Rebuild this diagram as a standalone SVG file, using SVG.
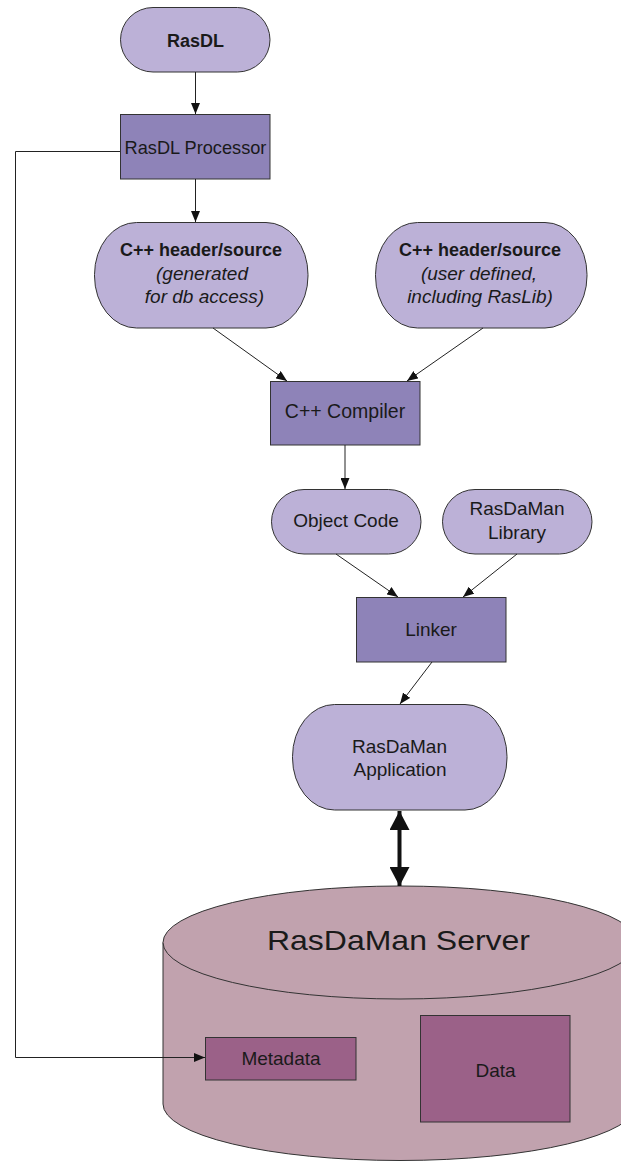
<svg xmlns="http://www.w3.org/2000/svg" width="621" height="1162" viewBox="0 0 621 1162">
<style>
text{font-family:"Liberation Sans",Arial,sans-serif;fill:#1a1a1a;text-anchor:middle}
.pill{fill:#BCB1D7;stroke:#333;stroke-width:1}
.box{fill:#8E83B8;stroke:#333;stroke-width:1}
.cyl{fill:#C1A2AE;stroke:#333;stroke-width:1}
.inner{fill:#9B6188;stroke:#333;stroke-width:1}
.b{font-weight:bold;font-size:18px}
.i{font-style:italic;font-size:19px}
.r{font-size:19px}
.c{fill:none;stroke:#222;stroke-width:1}
</style>
<defs>
<marker id="ah" markerUnits="userSpaceOnUse" markerWidth="11" markerHeight="9" refX="11" refY="4.5" orient="auto">
<path d="M0,0 L11,4.5 L0,9 z" fill="#111"/>
</marker>
<marker id="big" markerUnits="userSpaceOnUse" markerWidth="20" markerHeight="20" refX="19" refY="10" orient="auto-start-reverse">
<path d="M0,0 L19,10 L0,20 z" fill="#111"/>
</marker>
</defs>
<g id="server">
<path class="cyl" d="M163,942.5 A237,56.5 0 0 1 637,942.5 L637,1104 A237,56.5 0 0 1 163,1104 Z"/>
<path class="cyl" d="M163,942.5 A237,56.5 0 0 0 637,942.5" fill="none"/>
<text x="398.5" y="950" font-size="28" textLength="263" lengthAdjust="spacingAndGlyphs">RasDaMan Server</text>
</g>
<g id="metadata">
<rect class="inner" x="205.5" y="1037.5" width="150.5" height="42.5"/>
<text class="r" x="281" y="1065">Metadata</text>
</g>
<g id="data">
<rect class="inner" x="420.5" y="1015.5" width="149.5" height="106.5"/>
<text class="r" x="495.5" y="1077">Data</text>
</g>
<g id="rasdl">
<rect class="pill" x="120.5" y="7.5" width="149.5" height="64.5" rx="32.5" ry="32.5"/>
<text class="b" x="195.5" y="47">RasDL</text>
</g>
<g id="processor">
<rect class="box" x="120.5" y="114.5" width="149.5" height="64.5"/>
<text x="195.5" y="154" font-size="18.2">RasDL Processor</text>
</g>
<g id="gen">
<rect class="pill" x="94.5" y="222.5" width="213.5" height="105.5" rx="42" ry="52"/>
<text class="b" x="201" y="256">C++ header/source</text>
<text class="i" x="202" y="280">(generated</text>
<text class="i" x="204.5" y="303">for db access)</text>
</g>
<g id="user">
<rect class="pill" x="375.5" y="222.5" width="211.5" height="105.5" rx="42" ry="52"/>
<text class="b" x="480" y="256">C++ header/source</text>
<text class="i" x="479" y="280">(user defined,</text>
<text class="i" x="480" y="303">including RasLib)</text>
</g>
<g id="compiler">
<rect class="box" x="270.5" y="381.5" width="149.5" height="63.5"/>
<text x="345" y="418" font-size="19.5">C++ Compiler</text>
</g>
<g id="objcode">
<rect class="pill" x="271.5" y="489.5" width="149.5" height="64.5" rx="32.5" ry="32.5"/>
<text class="r" x="346" y="527">Object Code</text>
</g>
<g id="library">
<rect class="pill" x="442.5" y="489.5" width="149.5" height="64.5" rx="32.5" ry="32.5"/>
<text class="r" x="517" y="515">RasDaMan</text>
<text class="r" x="517" y="539">Library</text>
</g>
<g id="linker">
<rect class="box" x="356.5" y="597.5" width="149.5" height="64.5"/>
<text class="r" x="431" y="636">Linker</text>
</g>
<g id="app">
<rect class="pill" x="292.5" y="704.5" width="214.5" height="105.5" rx="42" ry="52"/>
<text class="r" x="399.5" y="753">RasDaMan</text>
<text class="r" x="400" y="776">Application</text>
</g>
<g id="connectors">
<line class="c" x1="195.5" y1="72" x2="195.5" y2="114" marker-end="url(#ah)"/>
<line class="c" x1="195.5" y1="179" x2="195.5" y2="222" marker-end="url(#ah)"/>
<line class="c" x1="213" y1="328" x2="287" y2="381" marker-end="url(#ah)"/>
<line class="c" x1="483" y1="328" x2="407" y2="381" marker-end="url(#ah)"/>
<line class="c" x1="345" y1="445" x2="345" y2="489" stroke="#555" marker-end="url(#ah)"/>
<line class="c" x1="336" y1="554" x2="398" y2="597" marker-end="url(#ah)"/>
<line class="c" x1="517" y1="554" x2="463" y2="597" marker-end="url(#ah)"/>
<line class="c" x1="432" y1="662" x2="400" y2="704" marker-end="url(#ah)"/>
<line x1="399.5" y1="811" x2="399.5" y2="886" stroke="#111" stroke-width="4" marker-start="url(#big)" marker-end="url(#big)"/>
<path class="c" d="M120,151.5 H15.5 V1057.5 H205" stroke="#444" marker-end="url(#ah)"/>
</g>
</svg>
